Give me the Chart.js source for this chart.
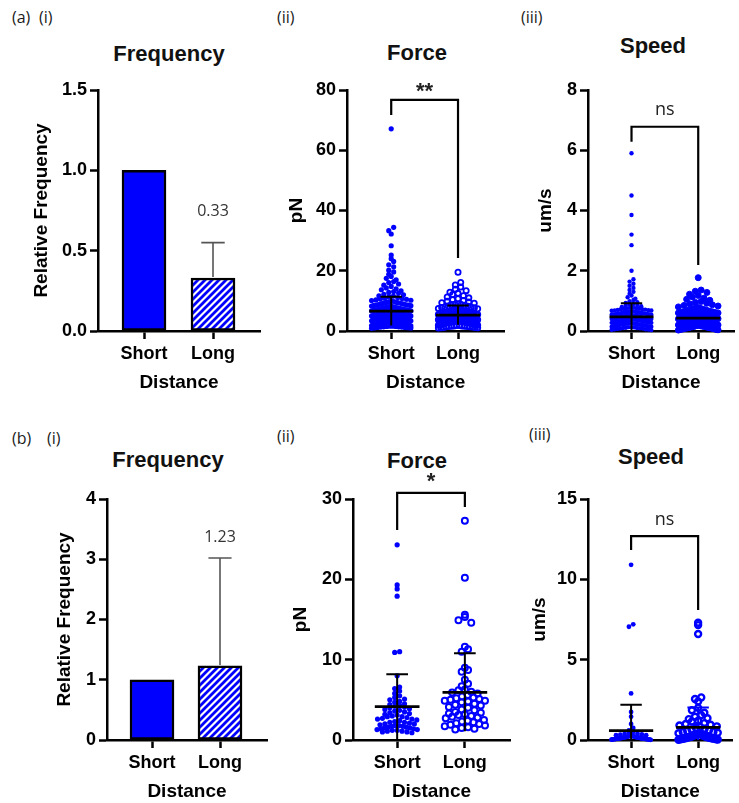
<!DOCTYPE html>
<html>
<head>
<meta charset="utf-8">
<script src="https://cdn.jsdelivr.net/npm/chart.js@4.4.1/dist/chart.umd.min.js"></script>
<style>
  html, body { margin: 0; padding: 0; background: #fff; }
  body { width: 739px; height: 803px; position: relative; overflow: hidden; }
  .lbl { position: absolute; font-family: 'Open Sans', sans-serif; font-size: 16px; line-height: 16px; color: #1a1a1a; white-space: nowrap; }
  .ttl { position: absolute; font-family: 'Liberation Sans', Arial, sans-serif; font-weight: bold; font-size: 22px; line-height: 22px; color: #111; transform: translateX(-50%); white-space: nowrap; }
</style>
</head>
<body>
<div class="lbl" style="left:12px;top:9px">(a)</div>
<div class="lbl" style="left:39px;top:9px">(i)</div>
<div class="lbl" style="left:277px;top:9px">(ii)</div>
<div class="lbl" style="left:521px;top:9px">(iii)</div>
<div class="lbl" style="left:12px;top:430px">(b)</div>
<div class="lbl" style="left:47px;top:430px">(i)</div>
<div class="lbl" style="left:277px;top:428px">(ii)</div>
<div class="lbl" style="left:529px;top:426px">(iii)</div>

<div class="ttl" style="left:169px;top:43px">Frequency</div>
<div class="ttl" style="left:417px;top:42px">Force</div>
<div class="ttl" style="left:653px;top:35px">Speed</div>
<div class="ttl" style="left:168px;top:449px">Frequency</div>
<div class="ttl" style="left:417px;top:450px">Force</div>
<div class="ttl" style="left:651px;top:446px">Speed</div>

<script>
const groups = ["Short", "Long"];
const sigLabels = ["**", "ns", "*", "ns"];

// (a) frequency
const freqA = [1.0, 0.33];
const freqSdA = [0, 0.22];
const freqTicksA = [0, 0.5, 1.0, 1.5];
// (b) frequency
const freqB = [1.0, 1.23];
const freqSdB = [0, 1.79];
const freqTicksB = [0, 1, 2, 3, 4];

// (a) force, pN
const forceTicksA = [0, 20, 40, 60, 80];
const forceShortA = [67.1, 34.4, 33.3, 32.2, 28.3, 25.2, 24.0, 23.1, 22.0, 21.3, 20.2, 19.6, 18.8, 18.1, 17.5, 17.0,
  16.4, 16.1, 15.6, 15.2, 14.8, 14.3, 14.0, 13.7, 13.3, 13.1, 12.8, 12.6, 12.2, 12.0, 11.7, 11.6, 11.3, 11.1, 10.9,
  10.6, 10.5, 10.2, 10.1, 9.9, 9.8, 9.6, 9.4, 9.3, 9.1, 9.0, 8.9, 8.7, 8.6, 8.5, 8.3, 8.2, 8.1, 8.0, 7.9, 7.8, 7.7,
  7.6, 7.5, 7.4, 7.3, 7.2, 7.1, 7.0, 7.0, 6.9, 6.8, 6.7, 6.6, 6.6, 6.5, 6.4, 6.3, 6.2, 6.2, 6.1, 6.0, 5.9, 5.9, 5.8,
  5.7, 5.6, 5.6, 5.5, 5.4, 5.3, 5.3, 5.2, 5.1, 5.0, 5.0, 4.9, 4.8, 4.8, 4.7, 4.6, 4.5, 4.5, 4.4, 4.3, 4.2, 4.2, 4.1,
  4.0, 3.9, 3.9, 3.8, 3.7, 3.6, 3.6, 3.5, 3.4, 3.3, 3.2, 3.2, 3.1, 3.0, 2.9, 2.8, 2.8, 2.7, 2.6, 2.5, 2.4, 2.3, 2.2,
  2.1, 2.0, 1.9, 1.8, 1.6, 1.5, 1.3, 1.2, 1.0,
  9.7, 9.2, 8.8, 8.4, 8.0, 7.7, 7.5, 7.2, 7.0, 6.8, 6.5, 6.3, 6.1, 5.9, 5.7, 5.5, 5.4, 5.2, 5.0, 4.9, 4.7, 4.6, 4.4,
  4.3, 4.1, 4.0, 3.8, 3.7, 3.5, 3.4, 3.3, 3.1, 3.0, 2.9, 2.7, 2.6, 2.4, 2.2, 2.0, 1.8, 1.7, 1.5, 1.4, 1.3, 1.1, 6.7,
  6.4, 6.0, 5.6, 5.1, 4.8, 4.5, 4.2, 3.9, 3.6, 3.2, 2.8, 2.5, 2.3, 2.1, 1.9, 1.6, 1.2, 1.0, 0.9, 10.8, 10.3, 9.5,
  8.6, 7.9, 7.3, 6.9, 5.8, 5.3, 4.4, 3.7, 2.7, 2.0, 1.4];
const forceLongA = [19.5, 16.1, 15.3, 14.6, 13.9, 13.4, 12.9, 12.5, 12.1, 11.7, 11.3, 11.0, 10.7, 10.4, 10.1, 9.9, 9.6,
  9.4, 9.2, 9.0, 8.8, 8.6, 8.4, 8.2, 8.0, 7.9, 7.7, 7.5, 7.4, 7.2, 7.1, 6.9, 6.8, 6.7, 6.5, 6.4, 6.3, 6.2, 6.1, 6.0,
  5.9, 5.8, 5.7, 5.6, 5.5, 5.5, 5.4, 5.3, 5.2, 5.1, 5.0, 5.0, 4.9, 4.8, 4.7, 4.7, 4.6, 4.5, 4.4, 4.4, 4.3, 4.2, 4.1,
  4.1, 4.0, 3.9, 3.9, 3.8, 3.7, 3.7, 3.6, 3.5, 3.5, 3.4, 3.3, 3.3, 3.2, 3.1, 3.0, 3.0, 2.9, 2.8, 2.7, 2.7, 2.6, 2.5,
  2.4, 2.3, 2.2, 2.1, 2.0, 1.9, 1.8, 1.7, 1.6, 1.5, 1.4, 1.2, 1.1,
  8.9, 8.3, 7.8, 7.3, 6.9, 6.6, 6.2, 5.9, 5.6, 5.3, 5.1, 4.9, 4.6, 4.3, 4.2, 4.0, 3.8, 3.6, 3.4, 3.2, 3.1, 2.9, 2.8,
  2.6, 2.5, 2.4, 2.3, 2.2, 2.0, 1.9, 1.8, 1.7, 1.6, 1.5, 1.3, 1.2, 1.1, 1.0, 3.9, 3.5, 3.0, 2.7, 2.1, 1.4];
const forceMeanA = [6.6, 5.3];
const forceSdA = [4.8, 3.2];

// (a) speed, um/s
const speedTicksA = [0, 2, 4, 6, 8];
const speedShortA = [5.9, 4.5, 3.85, 3.2, 2.85, 2.0, 1.72, 1.64, 1.57, 1.5, 1.43, 1.36, 1.3, 1.24, 1.18, 1.12, 1.07,
  1.03, 0.99, 0.96, 0.93, 0.9, 0.88, 0.86, 0.84, 0.82, 0.8, 0.79, 0.77, 0.76, 0.75, 0.74, 0.73, 0.72, 0.71, 0.7, 0.69,
  0.68, 0.67, 0.66, 0.65, 0.64, 0.63, 0.62, 0.62, 0.61, 0.6, 0.59, 0.58, 0.58, 0.57, 0.56, 0.55, 0.55, 0.54, 0.53,
  0.53, 0.52, 0.51, 0.5, 0.5, 0.49, 0.48, 0.48, 0.47, 0.46, 0.46, 0.45, 0.44, 0.44, 0.43, 0.42, 0.42, 0.41, 0.4, 0.4,
  0.39, 0.38, 0.38, 0.37, 0.36, 0.36, 0.35, 0.34, 0.33, 0.33, 0.32, 0.31, 0.3, 0.29, 0.28, 0.28, 0.27, 0.26, 0.25,
  0.24, 0.23, 0.22, 0.21, 0.2, 0.19, 0.18, 0.17, 0.16, 0.15, 0.14, 0.13, 0.12, 0.11, 0.1, 0.09, 0.08, 0.07, 0.06,
  0.05, 0.04, 0.03,
  0.72, 0.68, 0.65, 0.61, 0.57, 0.54, 0.52, 0.49, 0.47, 0.45, 0.43, 0.41, 0.39, 0.37, 0.35, 0.34, 0.32, 0.3, 0.29,
  0.27, 0.25, 0.23, 0.21, 0.19, 0.16, 0.13, 0.1, 0.08, 0.55, 0.5, 0.45, 0.4, 0.35, 0.3, 0.26, 0.22, 0.18, 0.6, 0.42,
  0.38, 0.63, 0.58, 0.51, 0.44, 0.37, 0.31, 0.24, 0.14, 0.06];
const speedLongA = [1.77, 1.36, 1.32, 1.28, 1.22, 1.18, 1.13, 1.09, 1.05, 1.02, 0.98, 0.95, 0.92, 0.9, 0.87, 0.85,
  0.83, 0.8, 0.78, 0.76, 0.74, 0.72, 0.7, 0.69, 0.67, 0.66, 0.64, 0.63, 0.62, 0.6, 0.59, 0.58, 0.56, 0.55, 0.54, 0.53,
  0.52, 0.5, 0.49, 0.48, 0.47, 0.46, 0.45, 0.44, 0.43, 0.42, 0.41, 0.4, 0.39, 0.38, 0.37, 0.36, 0.35, 0.34, 0.33, 0.32,
  0.31, 0.3, 0.29, 0.28, 0.27, 0.26, 0.25, 0.24, 0.23, 0.22, 0.21, 0.2, 0.19, 0.18, 0.17, 0.16, 0.15, 0.14, 0.13,
  0.12, 0.11, 0.1, 0.09, 0.08, 0.07, 0.06, 0.05, 0.04, 0.03,
  0.65, 0.61, 0.57, 0.53, 0.5, 0.47, 0.44, 0.41, 0.38, 0.35, 0.32, 0.29, 0.26, 0.23, 0.2, 0.17, 0.14, 0.11, 0.08,
  0.05, 0.6, 0.52, 0.45, 0.37, 0.3, 0.22, 0.15, 0.1, 0.7, 0.75];
const speedMeanA = [0.47, 0.43];
const speedSdA = [0.45, 0.3];

// (b) force, pN
const forceTicksB = [0, 10, 20, 30];
const forceShortB = [24.3, 19.3, 18.8, 17.9, 11.0, 10.9, 8.0, 6.6, 6.4, 6.1, 5.8, 5.5, 5.3, 5.1, 5.0, 4.8, 4.7, 4.5,
  4.4, 4.3, 4.2, 4.1, 4.0, 3.9, 3.8, 3.7, 3.6, 3.5, 3.4, 3.3, 3.2, 3.1, 3.0, 2.9, 2.9, 2.8, 2.7, 2.6, 2.6, 2.5, 2.4,
  2.3, 2.2, 2.2, 2.1, 2.0, 2.0, 1.9, 1.8, 1.8, 1.7, 1.7, 1.6, 1.6, 1.5, 1.5, 1.4, 1.4, 1.3, 1.3, 1.2, 1.2, 1.1, 1.1,
  1.0, 1.0, 0.9];
const forceLongB = [27.3, 20.2, 15.6, 15.3, 14.9, 14.6, 11.6, 11.3, 11.0, 9.0, 8.7, 8.5, 7.5, 7.0, 6.7, 6.3, 6.2, 6.0,
  5.9, 5.8, 5.6, 5.4, 5.3, 5.2, 5.1, 5.0, 4.9, 4.9, 4.8, 4.7, 4.5, 4.4, 4.3, 4.1, 4.0, 3.8, 3.7, 3.5, 3.4, 3.3, 3.2,
  3.1, 3.0, 2.9, 2.8, 2.7, 2.5, 2.4, 2.3, 2.2, 2.1, 2.0, 1.9, 1.8, 1.7, 1.6, 1.5, 1.4, 1.3];
const forceMeanB = [4.15, 5.94];
const forceSdB = [4.05, 4.85];

// (b) speed, um/s
const speedTicksB = [0, 5, 10, 15];
const speedShortB = [10.9, 7.2, 7.05, 2.9, 1.75, 1.45, 1.0, 0.75, 0.6, 0.5, 0.45, 0.4, 0.38, 0.35, 0.33, 0.3, 0.3,
  0.28, 0.27, 0.25, 0.25, 0.24, 0.22, 0.22, 0.2, 0.2, 0.19, 0.18, 0.18, 0.17, 0.16, 0.16, 0.15, 0.15, 0.14, 0.14,
  0.13, 0.12, 0.12, 0.11, 0.11, 0.1, 0.1, 0.09, 0.09, 0.08, 0.08, 0.07, 0.07, 0.06, 0.06, 0.05, 0.05, 0.04, 0.04,
  0.03, 0.03, 0.02, 0.02, 0.01];
const speedLongB = [7.3, 7.15, 6.6, 2.65, 2.55, 2.4, 2.0, 1.85, 1.7, 1.55, 1.45, 1.35, 1.3, 1.2, 1.15, 1.05, 1.0,
  0.95, 0.9, 0.85, 0.8, 0.75, 0.7, 0.65, 0.6, 0.55, 0.5, 0.48, 0.45, 0.42, 0.4, 0.38, 0.35, 0.33, 0.3, 0.28, 0.26,
  0.25, 0.22, 0.2, 0.19, 0.18, 0.16, 0.15, 0.14, 0.12, 0.11, 0.1, 0.09, 0.08, 0.07, 0.06, 0.05, 0.04, 0.03, 0.02];
const speedMeanB = [0.58, 0.79];
const speedSdB = [1.62, 1.24];

const BLUE = "#0000ff";
const FONT = "'Liberation Sans', Arial, sans-serif";
const tickFont = { family: FONT, size: 18, weight: "bold" };
const axisTitleFont = { family: FONT, size: 19, weight: "bold" };

// diagonal blue / white stripes for the "Long" bars
function hatch() {
  const n = 7;
  const c = document.createElement("canvas");
  c.width = c.height = n;
  const g = c.getContext("2d");
  g.fillStyle = "#fff";
  g.fillRect(0, 0, n, n);
  g.strokeStyle = BLUE;
  g.lineWidth = 2.8;
  g.beginPath();
  g.moveTo(-2, n + 2); g.lineTo(n + 2, -2);
  g.moveTo(-2, 2); g.lineTo(2, -2);
  g.moveTo(n - 2, n + 2); g.lineTo(n + 2, n - 2);
  g.stroke();
  return g.createPattern(c, "repeat");
}

// scatter-dot layout: rows one dot high, dots packed side by side within a max span
function swarm(values, idx, p, diam, span) {
  const pxPerY = (p.bottom - p.top) / p.ticks[p.ticks.length - 1];
  const unit = p.longX - p.shortX;
  const h = diam / pxPerY;
  const rows = new Map();
  values.forEach(v => {
    const k = Math.floor(v / h);
    if (!rows.has(k)) rows.set(k, []);
    rows.get(k).push(v);
  });
  const pts = [];
  rows.forEach(row => {
    row.sort((a, b) => b - a);
    const n = row.length;
    const step = n > 1 ? Math.min(diam, span / (n - 1)) : 0;
    row.forEach((v, j) => {
      const slot = j % 2 === 0 ? j / 2 : -(j + 1) / 2;
      const off = (slot + (n % 2 === 0 ? 0.5 : 0)) * step;
      pts.push({ x: idx + off / unit, y: v });
    });
  });
  return pts;
}

const extrasPlugin = {
  id: "extras",
  afterDatasetsDraw(chart, args, o) {
    const { ctx, scales: { x, y } } = chart;
    ctx.save();
    ctx.lineCap = "butt";
    (o.summaries || []).forEach(s => {
      const cx = x.getPixelForValue(s.i);
      const lo = Math.max(0, s.mean - s.sd), hi = s.mean + s.sd;
      ctx.strokeStyle = s.color;
      ctx.lineWidth = 2;
      ctx.beginPath();
      ctx.moveTo(cx, y.getPixelForValue(lo));
      ctx.lineTo(cx, y.getPixelForValue(hi));
      ctx.moveTo(x.getPixelForValue(s.i - 0.16), y.getPixelForValue(hi));
      ctx.lineTo(x.getPixelForValue(s.i + 0.16), y.getPixelForValue(hi));
      if (s.mean - s.sd > 0.05 * y.max) {
        ctx.moveTo(x.getPixelForValue(s.i - 0.16), y.getPixelForValue(lo));
        ctx.lineTo(x.getPixelForValue(s.i + 0.16), y.getPixelForValue(lo));
      }
      ctx.stroke();
      ctx.strokeStyle = "#000";
      ctx.lineWidth = 2.8;
      ctx.beginPath();
      ctx.moveTo(x.getPixelForValue(s.i - 0.33), y.getPixelForValue(s.mean));
      ctx.lineTo(x.getPixelForValue(s.i + 0.33), y.getPixelForValue(s.mean));
      ctx.stroke();
    });
    (o.errors || []).forEach(e => {
      const cx = x.getPixelForValue(e.i);
      ctx.strokeStyle = "#555";
      ctx.lineWidth = 1.6;
      ctx.beginPath();
      ctx.moveTo(cx, y.getPixelForValue(e.base) - 1);
      ctx.lineTo(cx, y.getPixelForValue(e.top));
      ctx.moveTo(x.getPixelForValue(e.i - 0.17), y.getPixelForValue(e.top));
      ctx.lineTo(x.getPixelForValue(e.i + 0.17), y.getPixelForValue(e.top));
      ctx.stroke();
    });
    if (o.bracket) {
      const b = o.bracket;
      ctx.strokeStyle = "#000";
      ctx.lineWidth = 2.2;
      ctx.lineJoin = "miter";
      ctx.beginPath();
      ctx.moveTo(x.getPixelForValue(0), y.getPixelForValue(b.end0));
      ctx.lineTo(x.getPixelForValue(0), y.getPixelForValue(b.top));
      ctx.lineTo(x.getPixelForValue(1), y.getPixelForValue(b.top));
      ctx.lineTo(x.getPixelForValue(1), y.getPixelForValue(b.end1));
      ctx.stroke();
    }
    (o.notes || []).forEach(t => {
      ctx.fillStyle = t.color || "#222";
      ctx.font = t.font;
      ctx.textAlign = "center";
      ctx.textBaseline = "middle";
      ctx.fillText(t.text, x.getPixelForValue(t.x), y.getPixelForValue(t.y));
    });
    ctx.restore();
  }
};

function makeChart(p, type, datasets, extras) {
  const cv = document.createElement("canvas");
  cv.width = p.w;
  cv.height = p.h;
  cv.style.cssText = `position:absolute;left:${p.left}px;top:${p.top0}px;width:${p.w}px;height:${p.h}px`;
  document.body.appendChild(cv);
  const unit = p.longX - p.shortX;
  const grid = { display: true, offset: false, drawOnChartArea: false, drawTicks: true, tickLength: 8, tickWidth: 2.5, tickColor: "#000" };
  const border = { display: true, color: "#000", width: 2.5 };
  return new Chart(cv, {
    type,
    data: { datasets },
    options: {
      responsive: false,
      animation: false,
      devicePixelRatio: 1,
      layout: { padding: { left: 0, top: p.top - p.top0, right: p.left + p.w - p.rightX, bottom: 0 } },
      plugins: { legend: { display: false }, tooltip: { enabled: false }, extras },
      scales: {
        x: {
          type: "linear",
          min: -(p.shortX - p.axisX) / unit,
          max: 1 + (p.rightX - p.longX) / unit,
          offset: false,
          afterBuildTicks: s => { s.ticks = groups.map((_, i) => ({ value: i })); },
          afterFit: s => { s.height = p.top0 + p.h - p.bottom; },
          ticks: { callback: v => groups[v], font: tickFont, color: "#000", padding: 4, maxRotation: 0, autoSkip: false },
          grid, border,
          title: { display: true, text: "Distance", font: axisTitleFont, color: "#000", padding: 0 }
        },
        y: {
          min: 0,
          max: p.ticks[p.ticks.length - 1],
          afterBuildTicks: s => { s.ticks = p.ticks.map(v => ({ value: v })); },
          afterFit: s => { s.width = p.axisX - p.left; },
          ticks: { callback: v => (p.decimals ? v.toFixed(p.decimals) : v), font: tickFont, color: "#000", padding: 3 },
          grid, border,
          title: { display: true, text: p.yTitle, font: axisTitleFont, color: "#000", padding: { top: p.yTitlePad, bottom: 0 } }
        }
      }
    },
    plugins: [extrasPlugin]
  });
}

// page geometry of each panel
const pA1 = { left: 0, top0: 30, w: 265, h: 364, axisX: 98, top: 90, bottom: 331, rightX: 260, shortX: 144, longX: 213,
  ticks: freqTicksA, decimals: 1, yTitle: "Relative Frequency", yTitlePad: 30.6 };
const pA2 = { left: 265, top0: 30, w: 245, h: 364, axisX: 347, top: 90, bottom: 331, rightX: 507, shortX: 392, longX: 460,
  ticks: forceTicksA, yTitle: "pN", yTitlePad: 20.6 };
const pA3 = { left: 510, top0: 30, w: 229, h: 364, axisX: 588, top: 90, bottom: 331, rightX: 739, shortX: 633, longX: 702,
  ticks: speedTicksA, yTitle: "um/s", yTitlePad: 24.6 };
const pB1 = { left: 0, top0: 430, w: 270, h: 373, axisX: 107, top: 499, bottom: 740, rightX: 267, shortX: 152, longX: 220,
  ticks: freqTicksB, yTitle: "Relative Frequency", yTitlePad: 53 };
const pB2 = { left: 270, top0: 430, w: 246, h: 373, axisX: 353, top: 499, bottom: 740, rightX: 513, shortX: 398, longX: 467,
  ticks: forceTicksB, yTitle: "pN", yTitlePad: 19.6 };
const pB3 = { left: 516, top0: 430, w: 223, h: 373, axisX: 588, top: 499, bottom: 740, rightX: 739, shortX: 633, longX: 703,
  ticks: speedTicksB, yTitle: "um/s", yTitlePad: 12.1 };

const stripes = hatch();
const noteFont = "16px 'Open Sans', sans-serif";
const starFont = "bold 22px " + FONT;
const nsFont = "18px 'Open Sans', sans-serif";

function barPanel(p, vals, sds, barW, noteY) {
  makeChart(p, "bar", [{
    data: vals.map((v, i) => ({ x: i, y: v })),
    backgroundColor: [BLUE, stripes],
    borderColor: "#000",
    borderWidth: 2.5,
    borderSkipped: false,
    barThickness: barW
  }], {
    errors: [{ i: 1, base: vals[1], top: vals[1] + sds[1] }],
    notes: [{ x: 1, y: noteY, text: vals[1].toFixed(2), font: noteFont, color: "#333" }]
  });
}

function dotPanel(p, shortVals, longVals, means, sds, look, bracket) {
  makeChart(p, "scatter", [
    {
      data: swarm(shortVals, 0, p, look.d0, look.span),
      pointRadius: look.r0, pointBackgroundColor: BLUE, pointBorderColor: BLUE, pointBorderWidth: 0, clip: false
    },
    {
      data: swarm(longVals, 1, p, look.d1, look.span),
      pointRadius: look.r1, pointBackgroundColor: look.fill1 ? BLUE : "rgba(0,0,255,0)", pointBorderColor: BLUE,
      pointBorderWidth: look.b1, clip: false
    }
  ], {
    summaries: means.map((m, i) => ({ i, mean: m, sd: sds[i], color: look.sdColors[i] })),
    bracket,
    notes: [{ x: 0.5, y: bracket.textY, text: bracket.text, font: bracket.font, color: "#222" }]
  });
}

barPanel(pA1, freqA, freqSdA, 44, 0.747);
dotPanel(pA2, forceShortA, forceLongA, forceMeanA, forceSdA,
  { d0: 5, r0: 2.6, d1: 5.5, r1: 2.6, b1: 1.8, span: 40, sdColors: ["#000", "#000"] },
  { top: 76.7, end0: 71.7, end1: 24.2, text: sigLabels[0], textY: 79.3, font: starFont });
dotPanel(pA3, speedShortA, speedLongA, speedMeanA, speedSdA,
  { d0: 4, r0: 2.2, d1: 6, r1: 3, b1: 1, fill1: true, span: 41, sdColors: ["#000", BLUE] },
  { top: 6.78, end0: 6.28, end1: 2.19, text: sigLabels[1], textY: 7.34, font: nsFont });

barPanel(pB1, freqB, freqSdB, 44, 3.36);
dotPanel(pB2, forceShortB, forceLongB, forceMeanB, forceSdB,
  { d0: 5, r0: 2.6, d1: 6.5, r1: 3, b1: 2, span: 41, sdColors: ["#000", "#000"] },
  { top: 30.76, end0: 26.15, end1: 29.0, text: sigLabels[2], textY: 32.1, font: starFont });
dotPanel(pB3, speedShortB, speedLongB, speedMeanB, speedSdB,
  { d0: 4.5, r0: 2.4, d1: 6.5, r1: 3, b1: 2.4, span: 41, sdColors: ["#000", BLUE] },
  { top: 12.69, end0: 11.82, end1: 8.09, text: sigLabels[3], textY: 13.69, font: nsFont });
</script>
</body>
</html>
